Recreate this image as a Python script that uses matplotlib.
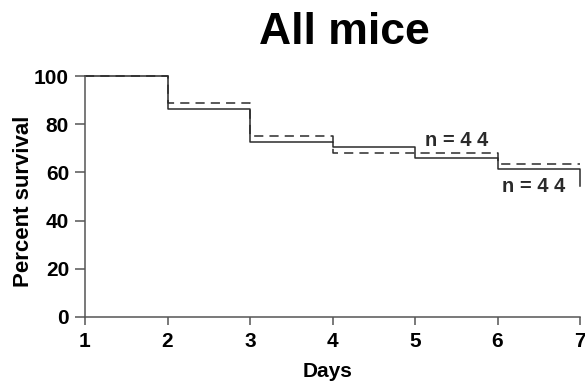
import matplotlib
matplotlib.use("Agg")
import matplotlib.pyplot as plt

days = [1, 2, 3, 4, 5, 6, 7]
solid_surv = [100, 86.4, 72.7, 70.5, 65.9, 61.4, 54.5]
dashed_surv = [100, 88.6, 75.0, 68.2, 68.2, 63.6, 63.6]
n_labels = ["n = 4 4", "n = 4 4"]
x_ticks = [1, 2, 3, 4, 5, 6, 7]
y_ticks = [0, 20, 40, 60, 80, 100]

plt.rcParams['font.family'] = ['Liberation Sans', 'DejaVu Sans']

W, H = 585, 381
fig = plt.figure(figsize=(5.85, 3.81), dpi=100)
ax = fig.add_axes([85/W, 1-317/H, 495/W, 241/H])

ax.step(days, solid_surv, where='post', color='#2b2b2b', lw=1.1, clip_on=False)
ax.step(days, dashed_surv, where='post', color='#2b2b2b', lw=1.1,
        linestyle=(0, (6, 4)), clip_on=False)

ax.text(425/W, 1-145.5/H, n_labels[0], transform=fig.transFigure, fontsize=14.5,
        fontweight='bold', color='#2a2a2a', ha='left', va='baseline')
ax.text(502/W, 1-192.5/H, n_labels[1], transform=fig.transFigure, fontsize=14.5,
        fontweight='bold', color='#2a2a2a', ha='left', va='baseline')

ax.set_xlim(1, 7)
ax.set_ylim(0, 100)
ax.set_xticks(x_ticks)
ax.set_yticks(y_ticks)
ax.set_xticklabels([str(v) for v in x_ticks], fontsize=15, fontweight='bold')
ax.set_yticklabels([str(v) for v in y_ticks], fontsize=15, fontweight='bold')
for s in ['top', 'right']:
    ax.spines[s].set_visible(False)
for s in ['left', 'bottom']:
    ax.spines[s].set_color('#555555')
    ax.spines[s].set_linewidth(1.1)
ax.tick_params(axis='y', length=7.2, width=1.1, color='#555555', pad=4.3)
ax.tick_params(axis='x', length=5.8, width=1.1, color='#555555', pad=5)

fig.text(328/W, 1-376.7/H, 'Days', fontsize=15, fontweight='bold',
         ha='center', va='baseline')
fig.text(23.5/W, 1-201/H, 'Percent survival', fontsize=16, fontweight='bold',
         ha='center', va='center', rotation=90)
fig.text(344.5/W, 1-44/H, 'All mice', fontsize=32, fontweight='bold',
         ha='center', va='baseline')

fig.savefig('out.png', dpi=100)
